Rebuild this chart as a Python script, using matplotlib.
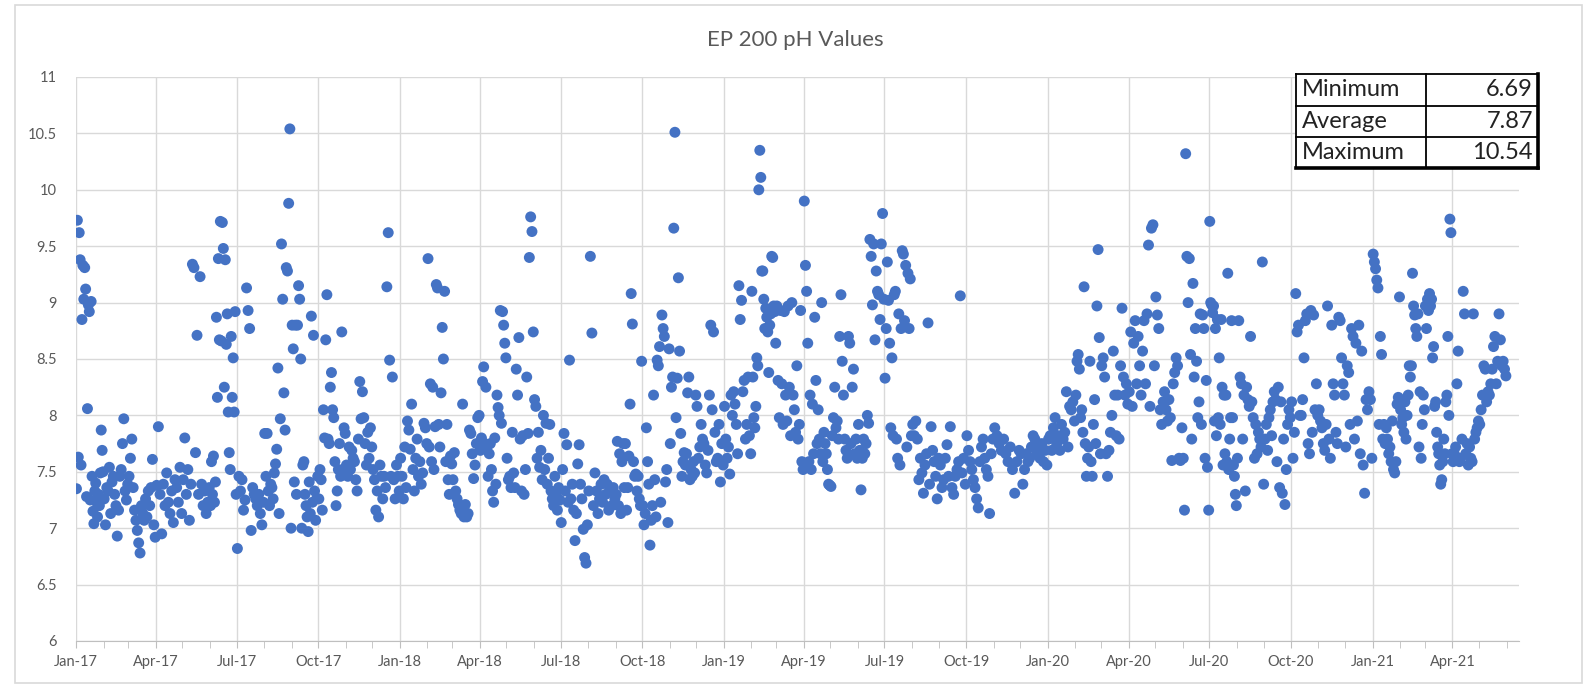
import numpy as np
import pandas as pd
import matplotlib
matplotlib.use('Agg')
import matplotlib.pyplot as plt
import matplotlib.dates as mdates
from matplotlib.lines import Line2D
from matplotlib.patches import Rectangle
from matplotlib.ticker import MultipleLocator, FuncFormatter

plt.rcParams['font.family'] = ['Lato', 'DejaVu Sans']

# pH readings, one list per month, in date order within the month
ph_2017 = [
    [7.35, 9.73, 7.63, 9.62, 9.38, 7.56, 8.85, 9.33, 9.03, 9.31, 9.12, 7.28, 8.06, 8.98, 8.92,
     7.25, 9.01, 7.46, 7.15, 7.04, 7.33, 7.40, 7.23, 7.10, 7.30, 7.20, 7.49, 7.87, 7.69, 7.50],
    [7.26, 7.03, 7.36, 7.33, 7.54, 7.13, 7.41, 7.46, 7.30, 7.20, 6.93, 7.16, 7.46, 7.52, 7.75,
     7.97, 7.33, 7.25, 7.39],
    [7.46, 7.62, 7.79, 7.36, 7.16, 7.07, 6.98, 6.87, 6.78, 7.20, 7.13, 7.07, 7.26, 7.10, 7.33,
     7.20, 7.36, 7.61, 7.03, 6.92],
    [7.38, 7.90, 7.30, 6.95, 7.39, 7.20, 7.49, 7.23, 7.13, 7.33, 7.05, 7.43, 7.36, 7.23, 7.54, 7.13],
    [7.43, 7.80, 7.30, 7.52, 7.07, 7.39, 9.34, 9.31, 7.67, 8.71, 7.30, 9.23, 7.39, 7.20, 7.33,
     7.13, 7.23, 7.36],
    [7.20, 7.59, 7.30, 7.64, 7.23, 7.41, 8.87, 8.16, 9.39, 8.67, 9.72, 8.66, 9.71, 9.48, 8.25,
     9.38, 8.63, 8.90, 8.03, 7.67, 7.52, 8.70, 8.16, 8.51, 8.03, 8.92, 7.30],
    [6.82, 7.46, 7.33, 7.43, 7.16, 7.25, 9.13, 8.93, 8.77, 6.98, 7.36, 7.30, 7.26, 7.20, 7.30,
     7.13, 7.03, 7.23],
    [7.84, 7.46, 7.84, 7.33, 7.20, 7.39, 7.36, 7.26, 7.49, 7.57, 7.70, 8.42, 7.13, 7.97, 9.52,
     9.03, 8.20, 7.87, 9.31, 9.28, 9.88, 10.54, 7.00],
    [8.80, 8.59, 7.41, 8.80, 7.30, 8.80, 9.15, 9.03, 8.50, 7.00, 7.56, 7.59, 7.30, 7.20, 7.10,
     6.97, 7.41, 7.13, 8.88, 7.23, 8.71, 7.33, 7.07, 7.26, 7.46],
    [7.26, 7.52, 7.43, 7.16, 8.05, 7.80, 8.67, 9.07, 7.79, 7.75, 8.25, 8.38, 8.05, 7.98, 7.59,
     7.20, 7.33, 7.52, 7.75, 7.46, 8.74, 7.52, 7.89, 7.84],
    [7.56, 7.46, 7.72, 7.52, 7.69, 7.62, 7.59, 7.43, 7.33, 7.79, 8.30, 7.97, 8.21, 7.98, 7.75,
     7.56, 7.85, 7.62, 7.89, 7.72],
    [7.52, 7.43, 7.16, 7.33, 7.10, 7.56, 7.46, 7.26, 7.46, 7.36, 9.14, 9.62, 8.49, 7.46, 8.34,
     7.43, 7.26, 7.56, 7.46, 7.33],
]
ph_2018 = [
    [7.62, 7.46, 7.26, 7.72, 7.36, 7.95, 7.87, 7.70, 8.10, 7.52, 7.33, 7.62, 7.79, 7.46, 7.59,
     7.39, 7.49, 7.93, 7.89, 7.75],
    [9.39, 7.72, 8.28, 7.59, 8.25, 7.52, 7.90, 9.16, 9.13, 7.92, 7.72, 8.20, 8.78, 8.50, 9.10,
     7.59, 7.92, 7.43, 7.30, 7.64, 7.57],
    [7.43, 7.67, 7.33, 7.26, 7.21, 7.16, 7.13, 8.10, 7.10, 7.21, 7.10, 7.13, 7.87, 7.84, 7.66,
     7.44, 7.56, 7.75, 7.98, 8.00],
    [7.69, 7.80, 8.30, 8.43, 7.75, 8.25, 7.72, 7.46, 7.66, 7.75, 7.52, 7.33, 7.23, 7.80, 7.39,
     8.18, 8.07, 8.00, 8.93, 7.93, 8.92, 8.80, 8.64, 8.51],
    [7.62, 7.43, 7.46, 7.36, 7.85, 7.49, 7.36, 8.41, 8.18, 8.69, 7.79, 7.33, 7.82, 7.30, 7.52,
     8.34, 7.84, 9.40, 9.76, 9.63, 8.74],
    [8.14, 8.08, 7.62, 7.85, 7.54, 7.69, 7.43, 8.00, 7.52, 7.93, 7.39, 7.62, 7.92, 7.33, 7.26,
     7.20, 7.46, 7.30, 7.16, 7.36, 7.25],
    [7.05, 7.52, 7.84, 7.33, 7.74, 7.23, 8.49, 7.26, 7.39, 7.16, 6.89, 7.13, 7.57, 7.74, 7.39,
     7.26, 6.99, 6.74, 6.69, 7.03],
    [7.33, 9.41, 8.73, 7.20, 7.49, 7.33, 7.13, 7.26, 7.39, 7.23, 7.43, 7.30, 7.39, 7.16, 7.33,
     7.20, 7.36, 7.26],
    [7.30, 7.77, 7.20, 7.66, 7.13, 7.59, 7.75, 7.36, 7.75, 7.16, 7.36, 7.64, 8.10, 9.08, 8.81,
     7.59, 7.46, 7.48, 7.33, 7.46, 7.26, 7.20, 8.48],
    [7.20, 7.03, 7.13, 7.89, 7.59, 7.39, 6.85, 7.07, 7.20, 8.18, 7.43, 7.10, 8.49, 8.44, 8.61,
     7.23, 8.89, 8.77, 8.70, 7.41, 7.52, 7.05, 8.59],
    [7.75, 8.25, 8.34, 9.66, 10.51, 7.98, 8.33, 9.22, 8.57, 7.84, 7.46, 7.59, 7.67, 7.56, 7.66,
     8.20, 8.34, 7.43, 7.52, 7.46, 7.59, 7.49, 8.18],
    [8.08, 7.62, 7.72, 7.92, 7.79, 7.75, 7.56, 7.49, 7.69, 8.18, 8.80, 8.05, 8.74, 7.85, 7.59,
     7.62, 7.92, 7.41, 7.75, 7.56],
]
ph_2019 = [
    [8.08, 7.79, 7.62, 7.72, 7.48, 8.18, 8.00, 8.21, 8.10, 7.92, 7.66, 9.15, 8.85, 9.02, 8.21,
     8.31, 7.79, 7.92, 8.34, 7.82, 7.66],
    [9.10, 8.34, 7.98, 7.89, 8.08, 8.51, 8.44, 10.00, 10.35, 10.11, 9.28, 9.28, 9.03, 8.77, 8.95,
     8.87, 8.74, 8.38, 8.80, 8.90, 9.41, 9.40, 8.97, 8.92, 8.64],
    [8.97, 8.31, 7.98, 8.93, 8.28, 7.92, 8.92, 8.18, 7.95, 8.97, 8.25, 7.82, 9.00, 8.18, 8.05,
     7.85, 8.44, 7.79, 7.92, 8.93, 7.59, 7.52],
    [9.90, 9.33, 9.10, 8.64, 7.59, 8.18, 7.52, 8.10, 7.66, 8.87, 8.31, 7.75, 8.05, 7.79, 7.66,
     9.00, 7.59, 7.85, 7.75, 7.66, 7.52, 7.39, 7.38],
    [7.37, 7.82, 7.98, 8.25, 7.89, 7.95, 7.79, 8.70, 9.07, 8.48, 8.18, 7.79, 7.69, 7.62, 8.70,
     8.64, 7.75, 8.25, 8.41, 7.66, 7.79, 7.62],
    [7.92, 7.69, 7.34, 7.62, 7.79, 7.66, 7.75, 8.00, 7.93, 9.56, 9.41, 8.98, 9.52, 8.67, 9.28,
     9.10, 9.07, 8.85, 9.52, 9.79, 9.03],
    [8.33, 8.77, 9.36, 9.02, 8.64, 7.89, 8.51, 7.82, 9.07, 9.10, 7.79, 7.62, 8.90, 7.56, 8.77,
     9.46, 9.43, 8.84, 9.33, 7.72, 9.26, 8.77, 9.21, 7.82],
    [7.92, 7.82, 7.95, 7.79, 7.43, 7.62, 7.49, 7.31, 7.56, 7.66, 8.82, 7.39, 7.90, 7.69, 7.59,
     7.46, 7.26, 7.62],
    [7.56, 7.36, 7.43, 7.62, 7.74, 7.46, 7.90, 7.36, 7.30, 7.46, 7.52, 7.59, 9.06, 7.49, 7.62, 7.39],
    [7.82, 7.69, 7.59, 7.52, 7.43, 7.36, 7.26, 7.18, 7.59, 7.72, 7.79, 7.62, 7.52, 7.46, 7.13,
     7.66, 7.79],
    [7.89, 7.82, 7.75, 7.69, 7.79, 7.66, 7.59, 7.72, 7.52, 7.31, 7.59, 7.69],
    [7.66, 7.39, 7.52, 7.66, 7.59, 7.62, 7.72, 7.82, 7.79, 7.66, 7.72, 7.62, 7.75, 7.59, 7.69, 7.56],
]
ph_2020 = [
    [7.79, 7.82, 7.69, 7.89, 7.98, 7.75, 7.82, 7.69, 7.92, 7.79, 7.85, 8.21, 7.72, 8.08, 8.05,
     8.12, 7.95],
    [8.18, 8.48, 8.54, 8.41, 7.98, 8.05, 7.85, 9.14, 7.75, 7.46, 7.62, 7.72, 8.48, 7.59, 7.46,
     7.92, 8.14, 7.75, 8.97, 9.47, 8.69, 7.66],
    [8.44, 8.51, 8.34, 7.66, 7.46, 7.69, 7.85, 8.00, 8.57, 8.18, 7.82, 8.18, 7.79, 8.44, 8.95,
     8.34, 8.18, 8.28, 8.10],
    [8.21, 8.74, 8.08, 8.64, 8.84, 8.28, 8.70, 8.44, 8.18, 8.57, 8.84, 8.28, 8.90, 9.51, 8.08,
     9.66, 9.69, 8.44],
    [9.05, 8.89, 8.77, 8.05, 7.92, 8.12, 8.21, 8.05, 7.95, 8.14, 7.98, 7.60, 8.28, 8.38, 8.51,
     8.44, 7.62, 7.60, 7.89],
    [7.62, 7.16, 10.32, 9.41, 9.00, 9.39, 8.54, 7.79, 9.17, 8.34, 8.77, 8.48, 7.98, 8.12, 8.90,
     7.92, 8.89, 8.77, 7.62, 8.31, 7.54, 7.16],
    [9.72, 9.00, 8.98, 8.91, 8.97, 7.95, 8.77, 7.82, 8.85, 7.98, 8.51, 7.92, 8.85, 8.25, 7.56,
     8.18, 7.66, 8.18, 7.59, 9.26, 7.52, 7.79, 7.98, 8.84, 7.98, 7.56, 7.46, 7.30, 7.20],
    [7.62, 8.84, 8.34, 8.28, 7.79, 8.18, 7.33, 8.25, 8.14, 8.08, 8.70, 8.12, 7.98, 7.62, 7.92,
     7.66, 7.85, 7.79, 7.72, 9.36, 7.39],
    [7.79, 7.92, 7.69, 7.98, 8.05, 7.82, 8.12, 8.21, 8.14, 7.59, 8.25, 7.36, 8.12, 7.31, 7.79,
     7.21, 7.52, 7.92, 8.05, 7.98],
    [8.12, 7.62, 7.85, 9.08, 8.74, 8.80, 8.00, 8.00, 8.14, 8.51, 8.84, 8.90, 7.75, 7.66, 8.93,
     7.85, 8.89, 8.05, 8.28, 8.00],
    [8.05, 7.95, 7.89, 7.75, 7.69, 7.92, 8.97, 7.79, 7.62, 8.80, 8.28, 8.18, 7.85, 7.75, 8.87,
     8.84, 8.51, 8.28, 8.18],
    [7.72, 8.44, 8.38, 7.92, 8.77, 8.70, 7.79, 8.64, 7.95, 8.80, 7.66, 8.57, 7.56, 7.31, 8.14,
     8.05, 8.21, 8.14, 7.62],
]
ph_2021 = [
    [9.43, 9.36, 9.30, 9.20, 9.13, 7.92, 8.70, 8.54, 7.79, 7.92, 7.75, 7.89, 7.79, 7.66, 7.72,
     7.59, 7.95, 7.52, 7.49, 7.59, 8.10, 8.16, 9.05],
    [8.05, 7.92, 7.98, 7.85, 8.12, 7.79, 8.00, 8.18, 8.44, 8.34, 8.44, 9.26, 8.97, 8.89, 8.77,
     8.70, 8.90, 7.72, 8.21, 7.62, 7.92, 8.18, 8.05],
    [8.97, 8.77, 9.03, 8.93, 9.08, 8.97, 9.03, 8.51, 8.61, 8.08, 8.12, 7.85, 7.72, 7.66, 7.56,
     7.39, 7.43, 7.59, 7.79, 7.66, 8.12, 8.18, 8.70, 8.00, 9.74, 9.62, 7.66],
    [7.59, 7.66, 7.72, 8.28, 8.57, 7.59, 7.62, 7.79, 9.10, 8.90, 7.66, 7.75, 7.56, 7.72, 7.62,
     7.59, 8.90, 7.79, 7.85, 7.89, 7.95],
    [7.92, 8.05, 8.18, 8.44, 8.41, 8.12, 8.21, 8.18, 8.28, 8.41, 8.61, 8.70, 8.28, 8.48, 8.90,
     8.67, 8.44, 8.48, 8.41, 8.35],
]

stat_names = ['Minimum', 'Average', 'Maximum']
stat_values = ['6.69', '7.87', '10.54']

monthly = ph_2017 + ph_2018 + ph_2019 + ph_2020 + ph_2021
month_starts = pd.date_range('2017-01-01', periods=len(monthly), freq='MS')

dates, values = [], []
for m0, vals in zip(month_starts, monthly):
    n = len(vals)
    for k, v in enumerate(vals):
        dates.append(m0 + pd.Timedelta(days=(k + 0.5) * m0.days_in_month / n))
        values.append(v)

W, H = 1588, 685
fig = plt.figure(figsize=(W / 100, H / 100), dpi=100)


def fx(px):
    return px / W


def fy(py):
    return 1 - py / H


# outer chart border
fig.add_artist(Rectangle((fx(15), fy(683)), (1567) / W, (678) / H, transform=fig.transFigure,
                         fill=False, ec='#d9d9d9', lw=1.2))

ax = fig.add_axes([fx(76), fy(641), (1519 - 76) / W, (641 - 77) / H])
ax.scatter(dates, values, s=62, color='#4472C4', edgecolors='none', zorder=3)

ax.set_ylim(6, 11)
ax.set_xlim(pd.Timestamp('2017-01-01'), pd.Timestamp('2021-06-15'))
ax.yaxis.set_major_locator(MultipleLocator(0.5))
ax.yaxis.set_major_formatter(FuncFormatter(lambda v, p: f'{v:g}'))
ax.xaxis.set_major_locator(mdates.MonthLocator(bymonth=[1, 4, 7, 10]))
ax.xaxis.set_minor_locator(mdates.MonthLocator())
ax.xaxis.set_major_formatter(mdates.DateFormatter('%b-%y'))

ax.grid(True, which='major', color='#d9d9d9', lw=1)
ax.set_axisbelow(True)
for s in ['top', 'right', 'left']:
    ax.spines[s].set_visible(False)
ax.spines['bottom'].set_color('#bfbfbf')
ax.tick_params(axis='x', which='both', length=5, color='#bfbfbf', labelsize=10.5,
               labelcolor='#595959', pad=5)
ax.tick_params(axis='y', length=0, labelsize=10.5, labelcolor='#595959', pad=14)

fig.text(fx(795), fy(40), 'EP 200 pH Values', ha='center', va='center', fontsize=16,
         color='#595959')

# stats box
cols = [1296, 1426, 1538]
rows = [74, 106, 137, 168]
fig.add_artist(Rectangle((fx(cols[0]), fy(rows[-1])), (cols[-1] - cols[0]) / W,
                         (rows[-1] - rows[0]) / H, transform=fig.transFigure,
                         fc='white', ec='none', zorder=5))
for i, y in enumerate(rows):
    lw = 2.6 if i == len(rows) - 1 else 1.3
    fig.add_artist(Line2D([fx(cols[0]), fx(cols[-1])], [fy(y), fy(y)],
                          transform=fig.transFigure, color='black', lw=lw, zorder=6))
for j, x in enumerate(cols):
    lw = 2.6 if j == len(cols) - 1 else 1.3
    fig.add_artist(Line2D([fx(x), fx(x)], [fy(rows[0]), fy(rows[-1])],
                          transform=fig.transFigure, color='black', lw=lw, zorder=6))
for i, (name, val) in enumerate(zip(stat_names, stat_values)):
    yc = fy((rows[i] + rows[i + 1]) / 2)
    fig.text(fx(cols[0] + 6), yc, name, ha='left', va='center', fontsize=17, color='#222222',
             zorder=7)
    fig.text(fx(cols[-1] - 5), yc, val, ha='right', va='center', fontsize=17, color='#222222',
             zorder=7)

fig.savefig('out.png', dpi=100)
